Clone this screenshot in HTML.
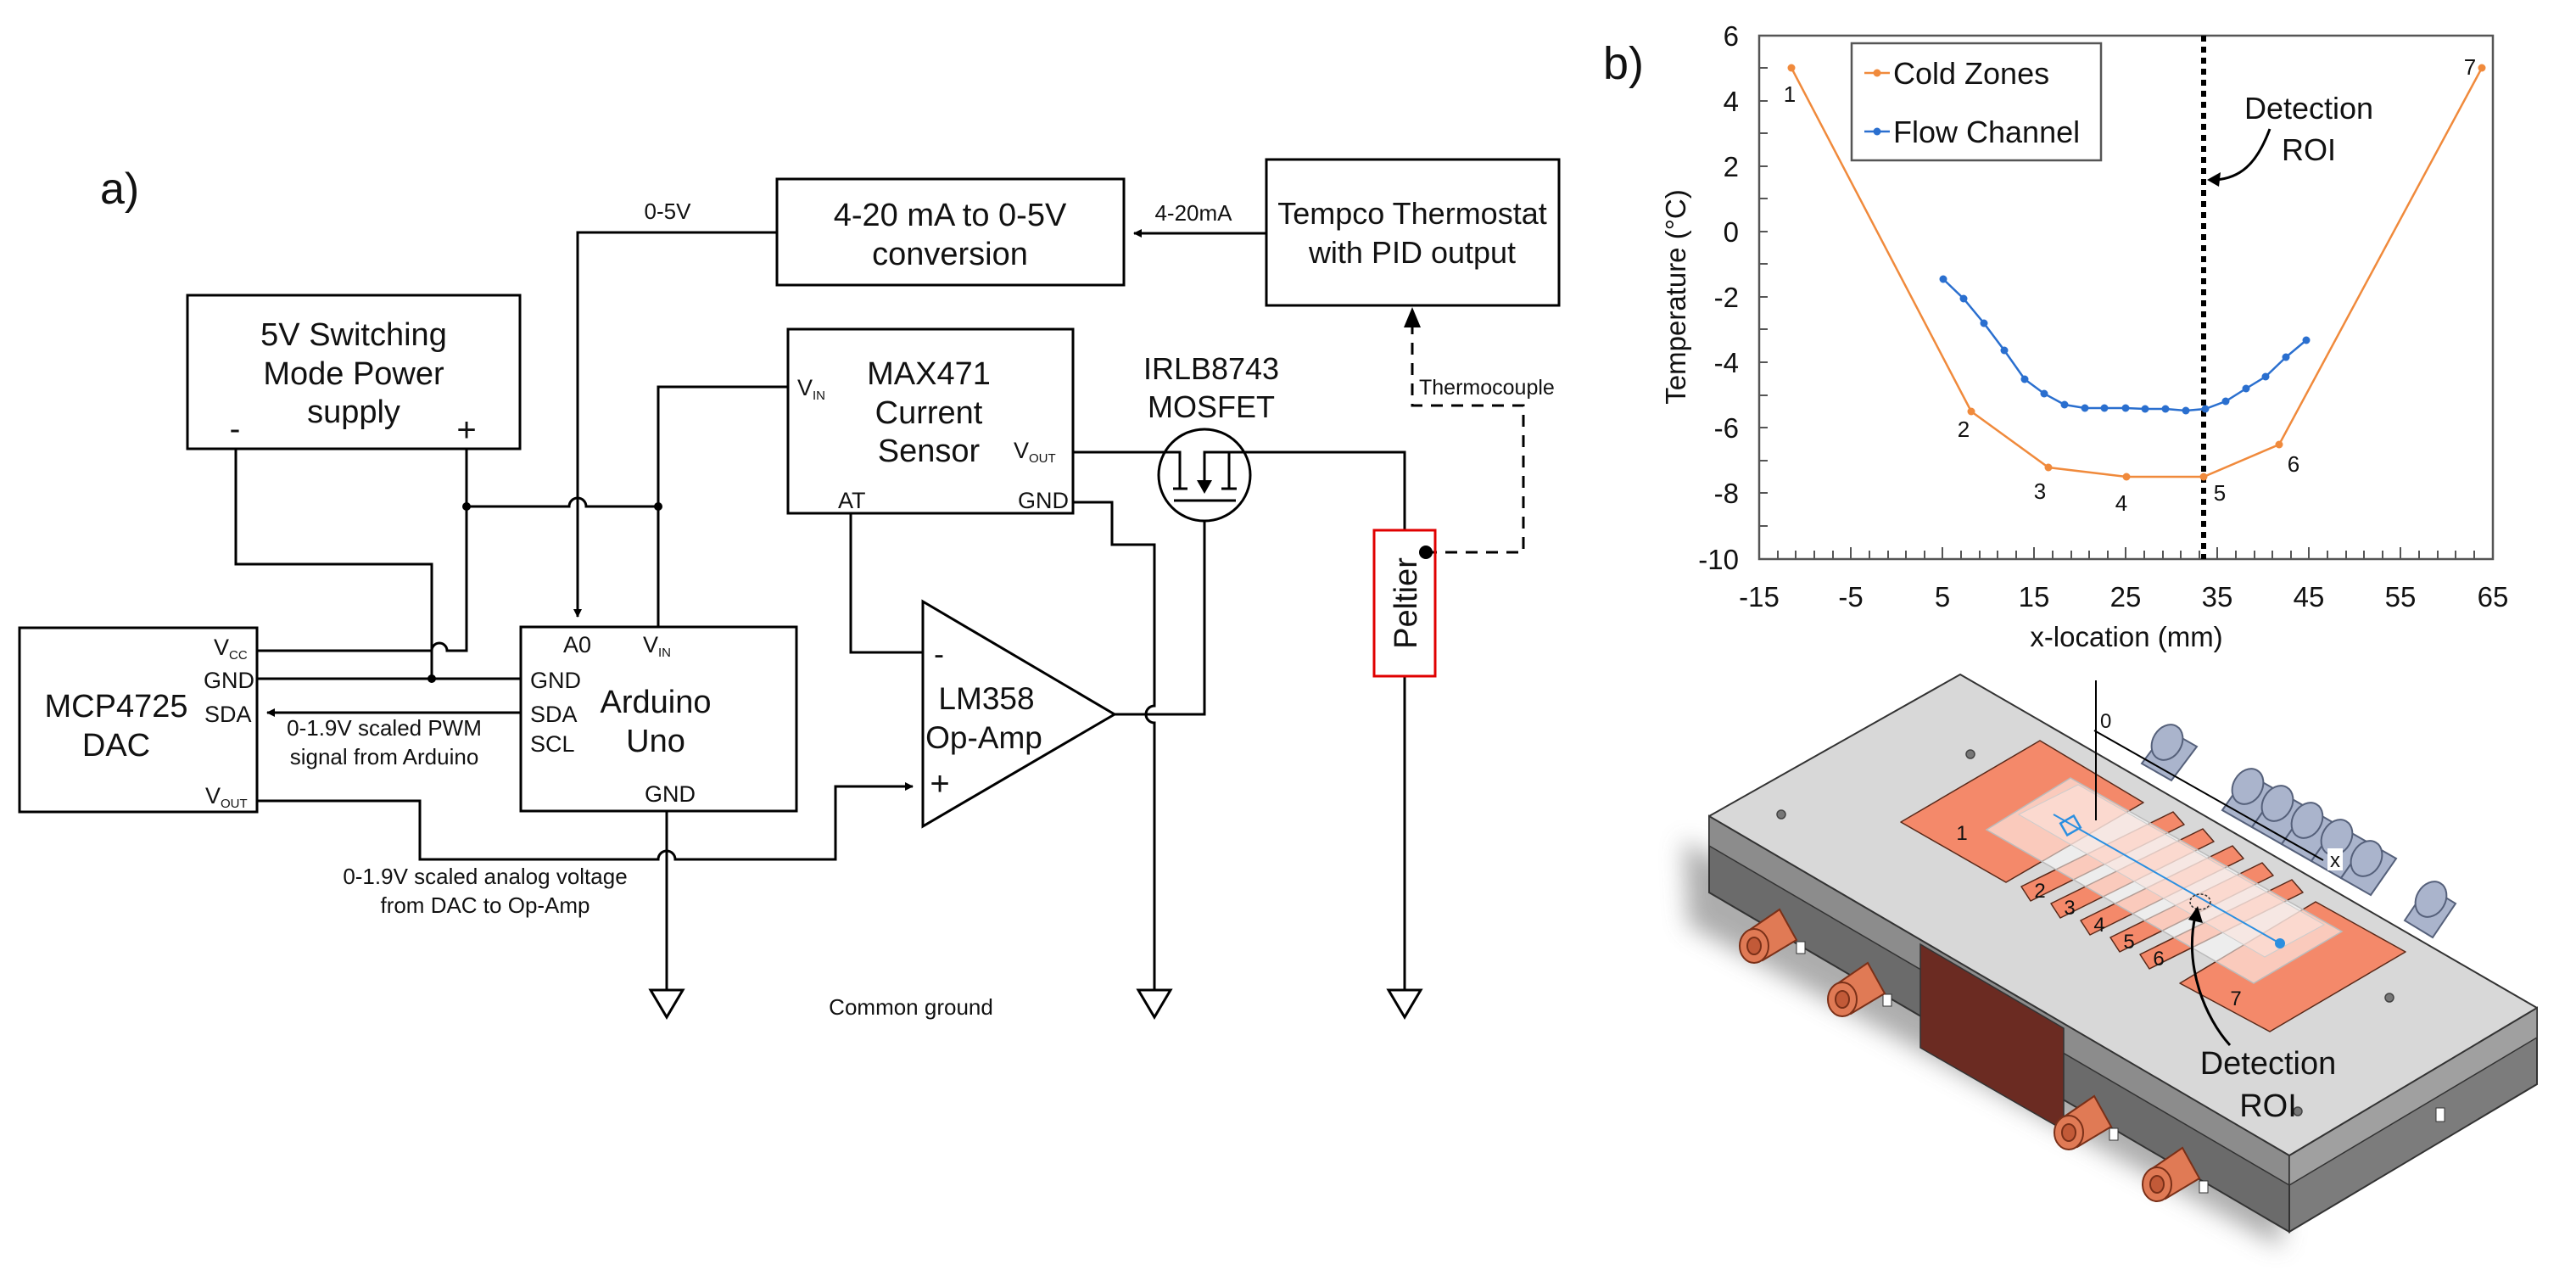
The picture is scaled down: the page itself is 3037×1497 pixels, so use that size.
<!DOCTYPE html>
<html><head><meta charset="utf-8"><style>
html,body{margin:0;padding:0;background:#fff}
svg{display:block}
text{font-family:"Liberation Sans",Arial,sans-serif;fill:#111}
</style></head><body>
<svg width="3037" height="1497" viewBox="0 0 3037 1497" xmlns="http://www.w3.org/2000/svg">
<defs>
<marker id="ar" markerWidth="10" markerHeight="10" refX="9" refY="5" orient="auto" markerUnits="userSpaceOnUse" viewBox="0 0 10 10"><path d="M0,0 L10,5 L0,10 z" fill="#000"/></marker>
<filter id="bl" x="-20%" y="-20%" width="140%" height="140%"><feGaussianBlur stdDeviation="14"/></filter>
</defs>

<!-- ================= PART a) circuit ================= -->
<text x="118" y="240" font-size="52">a)</text>
<g fill="none" stroke="#000" stroke-width="3">
  <rect x="916" y="211" width="409" height="125"/>
  <rect x="1493" y="188" width="345" height="172"/>
  <rect x="221" y="348" width="392" height="181"/>
  <rect x="929" y="388" width="336" height="217"/>
  <rect x="23" y="740" width="280" height="217"/>
  <rect x="614" y="739" width="325" height="217"/>
  <path d="M1088,709 L1314,842 L1088,974 Z"/>
  <circle cx="1420" cy="560" r="54"/>
  <path d="M1493,275 L1337,275" marker-end="url(#ar)"/>
  <path d="M916,274 L681,274 L681,727" marker-end="url(#ar)"/>
  <path d="M550,529 L550,767 L527,767 A9,9 0 0 0 509,767 L303,767"/>
  <path d="M278,529 L278,665 L509,665 L509,800"/>
  <path d="M303,800 L614,800"/>
  <path d="M614,840 L315,840" marker-end="url(#ar)"/>
  <path d="M550,597 L671,597 A10,10 0 0 1 691,597 L776,597"/>
  <path d="M776,739 L776,456 L929,456"/>
  <path d="M303,944 L495,944 L495,1013 L776,1013 A10,10 0 0 1 796,1013 L985,1013 L985,927 L1076,927" marker-end="url(#ar)"/>
  <path d="M786,956 L786,1167"/>
  <path d="M1003,605 L1003,769 L1088,769"/>
  <path d="M1265,592 L1311,592 L1311,642 L1361,642 L1361,832 A10,10 0 0 0 1361,852 L1361,1167"/>
  <path d="M1314,842 L1420,842 L1420,614"/>
  <path d="M1265,533 L1391,533 L1391,576"/>
  <path d="M1383,576 L1400,576"/>
  <path d="M1420,576 L1420,533 L1656,533 L1656,625"/>
  <path d="M1449,533 L1449,576 M1440,576 L1458,576"/>
  <path d="M1384,590 L1457,590"/>
  <path d="M1656,797 L1656,1167"/>
  <path d="M767,1167 L805,1167 L786,1199 Z"/>
  <path d="M1342,1167 L1380,1167 L1361,1199 Z"/>
  <path d="M1637,1167 L1675,1167 L1656,1199 Z"/>
  <path d="M1680,651 L1796,651 L1796,478 L1665,478 L1665,386" stroke-dasharray="14,10"/>
</g>
<path d="M1411,566 L1429,566 L1420,582 Z" fill="#000"/>
<path d="M1665,362 L1655,386 L1675,386 Z" fill="#000"/>
<circle cx="550" cy="597" r="5"/><circle cx="776" cy="597" r="5"/><circle cx="509" cy="800" r="5"/>
<rect x="1620" y="625" width="72" height="172" fill="none" stroke="#e00000" stroke-width="3"/>
<circle cx="1681" cy="651" r="8" fill="#000"/>
<text transform="translate(1670,711) rotate(-90)" font-size="38" text-anchor="middle">Peltier</text>

<g text-anchor="middle">
<text x="1120" y="266" font-size="38">4-20 mA to 0-5V</text>
<text x="1120" y="312" font-size="38">conversion</text>
<text x="1665" y="264" font-size="36">Tempco Thermostat</text>
<text x="1665" y="310" font-size="36">with PID output</text>
<text x="417" y="407" font-size="38">5V Switching</text>
<text x="417" y="453" font-size="38">Mode Power</text>
<text x="417" y="498" font-size="38">supply</text>
<text x="1095" y="453" font-size="38">MAX471</text>
<text x="1095" y="499" font-size="38">Current</text>
<text x="1095" y="544" font-size="38">Sensor</text>
<text x="1428" y="447" font-size="36">IRLB8743</text>
<text x="1428" y="492" font-size="36">MOSFET</text>
<text x="137" y="845" font-size="38">MCP4725</text>
<text x="137" y="891" font-size="38">DAC</text>
<text x="773" y="840" font-size="38">Arduino</text>
<text x="773" y="886" font-size="38">Uno</text>
<text x="1163" y="836" font-size="37">LM358</text>
<text x="1160" y="882" font-size="37">Op-Amp</text>
<text x="787" y="258" font-size="26">0-5V</text>
<text x="1407" y="260" font-size="26">4-20mA</text>
<text x="453" y="867" font-size="26">0-1.9V scaled PWM</text>
<text x="453" y="901" font-size="26">signal from Arduino</text>
<text x="572" y="1042" font-size="26">0-1.9V scaled analog voltage</text>
<text x="572" y="1076" font-size="26">from DAC to Op-Amp</text>
<text x="1074" y="1196" font-size="26">Common ground</text>
<text x="277" y="518" font-size="38">-</text>
<text x="550" y="520" font-size="40">+</text>
<text x="1107" y="783" font-size="36">-</text>
<text x="1108" y="937" font-size="40">+</text>
</g>
<text x="1673" y="465" font-size="25">Thermocouple</text>
<g font-size="27">
<text x="940" y="466">V<tspan font-size="15" dy="5">IN</tspan></text>
<text x="1195" y="540">V<tspan font-size="15" dy="5">OUT</tspan></text>
<text x="988" y="599">AT</text>
<text x="1200" y="599">GND</text>
<text x="664" y="769">A0</text>
<text x="758" y="769">V<tspan font-size="15" dy="5">IN</tspan></text>
<text x="625" y="811">GND</text>
<text x="625" y="851">SDA</text>
<text x="625" y="886">SCL</text>
<text x="760" y="945">GND</text>
<text x="252" y="772">V<tspan font-size="15" dy="5">CC</tspan></text>
<text x="240" y="811">GND</text>
<text x="241" y="851">SDA</text>
<text x="242" y="947">V<tspan font-size="15" dy="5">OUT</tspan></text>
</g>

<!-- ================= PART b) chart ================= -->
<text x="1890" y="93" font-size="54">b)</text>
<rect x="2074" y="42" width="865" height="617" fill="none" stroke="#555" stroke-width="2.5"/>
<g stroke="#555" stroke-width="2">
<path d="M2074,80h10M2074,119h10M2074,157h10M2074,196h10M2074,234h10M2074,273h10M2074,311h10M2074,350h10M2074,388h10M2074,427h10M2074,466h10M2074,504h10M2074,543h10M2074,581h10M2074,620h10"/>
<path d="M2096,659v-10M2117,659v-10M2139,659v-10M2161,659v-10M2182,659v-14M2204,659v-10M2226,659v-10M2247,659v-10M2269,659v-10M2290,659v-14M2312,659v-10M2334,659v-10M2355,659v-10M2377,659v-10M2398,659v-14M2420,659v-10M2442,659v-10M2463,659v-10M2485,659v-10M2506,659v-14M2528,659v-10M2550,659v-10M2571,659v-10M2593,659v-10M2614,659v-14M2636,659v-10M2658,659v-10M2679,659v-10M2701,659v-10M2722,659v-14M2744,659v-10M2766,659v-10M2787,659v-10M2809,659v-10M2830,659v-14M2852,659v-10M2874,659v-10M2895,659v-10M2917,659v-10"/>
</g>
<g font-size="33" text-anchor="end">
<text x="2050" y="54">6</text><text x="2050" y="131">4</text><text x="2050" y="208">2</text><text x="2050" y="285">0</text>
<text x="2050" y="362">-2</text><text x="2050" y="439">-4</text><text x="2050" y="516">-6</text><text x="2050" y="593">-8</text><text x="2050" y="671">-10</text>
</g>
<g font-size="33" text-anchor="middle">
<text x="2074" y="715">-15</text><text x="2182" y="715">-5</text><text x="2290" y="715">5</text><text x="2398" y="715">15</text>
<text x="2506" y="715">25</text><text x="2614" y="715">35</text><text x="2722" y="715">45</text><text x="2830" y="715">55</text><text x="2939" y="715">65</text>
<text x="2507" y="762">x-location (mm)</text>
<text transform="translate(1987,350) rotate(-90)">Temperature (°C)</text>
</g>
<line x1="2598" y1="42" x2="2598" y2="659" stroke="#000" stroke-width="6" stroke-dasharray="7,6"/>
<polyline fill="none" stroke="#f08a3c" stroke-width="2.5" points="2112,80 2324,485 2415,551 2507,562 2598,562 2687,524 2926,80"/>
<g fill="#f08a3c"><circle cx="2112" cy="80" r="4.5"/><circle cx="2324" cy="485" r="4.5"/><circle cx="2415" cy="551" r="4.5"/><circle cx="2507" cy="562" r="4.5"/><circle cx="2598" cy="562" r="4.5"/><circle cx="2687" cy="524" r="4.5"/><circle cx="2926" cy="80" r="4.5"/></g>
<polyline fill="none" stroke="#2a6fcf" stroke-width="2.5" points="2291,329 2315,352 2339,381 2363,413 2387,447 2410,464 2434,477 2458,481 2481,481 2506,481 2529,482 2553,482 2577,484 2600,482 2624,473 2648,458 2671,444 2695,421 2719,401"/>
<g fill="#2a6fcf"><circle cx="2291" cy="329" r="4.5"/><circle cx="2315" cy="352" r="4.5"/><circle cx="2339" cy="381" r="4.5"/><circle cx="2363" cy="413" r="4.5"/><circle cx="2387" cy="447" r="4.5"/><circle cx="2410" cy="464" r="4.5"/><circle cx="2434" cy="477" r="4.5"/><circle cx="2458" cy="481" r="4.5"/><circle cx="2481" cy="481" r="4.5"/><circle cx="2506" cy="481" r="4.5"/><circle cx="2529" cy="482" r="4.5"/><circle cx="2553" cy="482" r="4.5"/><circle cx="2577" cy="484" r="4.5"/><circle cx="2600" cy="482" r="4.5"/><circle cx="2624" cy="473" r="4.5"/><circle cx="2648" cy="458" r="4.5"/><circle cx="2671" cy="444" r="4.5"/><circle cx="2695" cy="421" r="4.5"/><circle cx="2719" cy="401" r="4.5"/></g>
<g font-size="26" fill="#333" text-anchor="middle">
<text x="2110" y="120">1</text><text x="2315" y="515">2</text><text x="2405" y="588">3</text><text x="2501" y="602">4</text>
<text x="2617" y="590">5</text><text x="2704" y="556">6</text><text x="2912" y="88">7</text>
</g>
<rect x="2183" y="51" width="294" height="138" fill="#fff" stroke="#555" stroke-width="2.5"/>
<line x1="2198" y1="86" x2="2228" y2="86" stroke="#f08a3c" stroke-width="2.5"/><circle cx="2213" cy="86" r="4.5" fill="#f08a3c"/>
<line x1="2198" y1="155" x2="2228" y2="155" stroke="#2a6fcf" stroke-width="2.5"/><circle cx="2213" cy="155" r="4.5" fill="#2a6fcf"/>
<text x="2232" y="99" font-size="36">Cold Zones</text>
<text x="2232" y="168" font-size="36">Flow Channel</text>
<text x="2722" y="140" font-size="36" text-anchor="middle">Detection</text>
<text x="2722" y="189" font-size="36" text-anchor="middle">ROI</text>
<path d="M2676,152 C2660,195 2640,210 2612,212" fill="none" stroke="#000" stroke-width="3"/>
<path d="M2602,212 L2618,203 L2616,220 Z" fill="#000"/>

<!-- ================= 3D device ================= -->
<polygon points="1985,990 2690,1400 2690,1470 1990,1090" fill="#999" filter="url(#bl)" opacity="0.8"/>
<g fill="#aab4cc" stroke="#55607a" stroke-width="2">
<path d="M2525,900 L2555,860 L2590,880 L2560,920 Z"/><ellipse cx="2555" cy="875" rx="17" ry="22" transform="rotate(30 2555 875)"/>
<path d="M2620,955 L2650,912 L2685,932 L2655,975 Z"/><ellipse cx="2650" cy="927" rx="17" ry="22" transform="rotate(30 2650 927)"/>
<path d="M2655,975 L2685,932 L2720,952 L2690,995 Z"/><ellipse cx="2685" cy="947" rx="17" ry="22" transform="rotate(30 2685 947)"/>
<path d="M2690,995 L2720,952 L2755,972 L2725,1015 Z"/><ellipse cx="2720" cy="967" rx="17" ry="22" transform="rotate(30 2720 967)"/>
<path d="M2725,1015 L2755,972 L2790,992 L2760,1035 Z"/><ellipse cx="2755" cy="987" rx="17" ry="22" transform="rotate(30 2755 987)"/>
<path d="M2760,1035 L2790,992 L2825,1012 L2795,1055 Z"/><ellipse cx="2790" cy="1012" rx="17" ry="22" transform="rotate(30 2790 1012)"/>
<path d="M2835,1085 L2862,1045 L2895,1065 L2868,1105 Z"/><ellipse cx="2866" cy="1060" rx="17" ry="22" transform="rotate(30 2866 1060)"/>
</g>
<polygon points="2015,962 2699,1362 2699,1452 2015,1052" fill="#6b6b6b" stroke="#333" stroke-width="2"/>
<polygon points="2015,962 2699,1362 2699,1397 2015,997" fill="#8c8c8c" stroke="#333" stroke-width="1.5"/>
<polygon points="2699,1362 2991,1188 2991,1278 2699,1452" fill="#7c7c7c" stroke="#333" stroke-width="2"/>
<polygon points="2699,1362 2991,1188 2991,1223 2699,1397" fill="#a0a0a0" stroke="#333" stroke-width="1.5"/>
<polygon points="2311,795 2991,1188 2699,1362 2015,962" fill="#d8d8d8" stroke="#333" stroke-width="2" stroke-linejoin="round"/>
<polygon points="2264,1113 2433,1212 2433,1332 2264,1235" fill="#6b2b22" stroke="#333" stroke-width="1.5"/>
<g fill="#fff" stroke="#333" stroke-width="1"><rect x="2118" y="1110" width="10" height="14"/><rect x="2220" y="1172" width="10" height="14"/><rect x="2487" y="1330" width="10" height="14"/><rect x="2593" y="1392" width="10" height="14"/><rect x="2872" y="1306" width="10" height="16"/></g>
<g fill="#e07a55" stroke="#7a3018" stroke-width="2">
<path d="M2060,1098 L2098,1072 L2118,1108 L2078,1132 Z"/><ellipse cx="2068" cy="1115" rx="17" ry="20"/><ellipse cx="2068" cy="1115" rx="8" ry="10" fill="#c25a38"/>
<path d="M2164,1161 L2202,1135 L2222,1171 L2182,1195 Z"/><ellipse cx="2172" cy="1178" rx="17" ry="20"/><ellipse cx="2172" cy="1178" rx="8" ry="10" fill="#c25a38"/>
<path d="M2431,1318 L2469,1292 L2489,1328 L2449,1352 Z"/><ellipse cx="2439" cy="1335" rx="17" ry="20"/><ellipse cx="2439" cy="1335" rx="8" ry="10" fill="#c25a38"/>
<path d="M2535,1379 L2573,1353 L2593,1389 L2553,1413 Z"/><ellipse cx="2543" cy="1396" rx="17" ry="20"/><ellipse cx="2543" cy="1396" rx="8" ry="10" fill="#c25a38"/>
</g>
<g fill="#777" stroke="#444" stroke-width="1.5"><circle cx="2323" cy="889" r="5"/><circle cx="2100" cy="960" r="5"/><circle cx="2817" cy="1176" r="5"/><circle cx="2709" cy="1310" r="5"/></g>
<g fill="#f4896a" stroke="#5a2a1a" stroke-width="1.5" stroke-linejoin="round">
<polygon points="2241,969 2405,873 2527,946 2365,1040"/>
<polygon points="2570,1159 2730,1063 2836,1122 2676,1216"/>
<polygon points="2383,1045 2562,957 2575,972 2394,1062"/>
<polygon points="2418,1065 2597,977 2610,992 2429,1082"/>
<polygon points="2453,1085 2632,997 2645,1012 2464,1102"/>
<polygon points="2488,1105 2667,1017 2680,1032 2499,1122"/>
<polygon points="2523,1125 2702,1037 2715,1052 2534,1142"/>
</g>
<polygon points="2342,978 2441,917 2761,1098 2657,1159" fill="#fff" fill-opacity="0.55" stroke="#bbb" stroke-width="1.5"/>
<polygon points="2380,960 2450,925 2740,1090 2670,1128" fill="#fbe3dc" fill-opacity="0.6" stroke="#ccc" stroke-width="1"/>
<line x1="2421" y1="960" x2="2688" y2="1112" stroke="#2b8fe0" stroke-width="2"/>
<rect x="2432" y="965" width="18" height="16" fill="none" stroke="#2b8fe0" stroke-width="2.5" transform="rotate(-30 2441 973)"/>
<circle cx="2688" cy="1112" r="6" fill="#2b8fe0"/>
<ellipse cx="2594" cy="1063" rx="12" ry="9" fill="none" stroke="#333" stroke-width="1.5" stroke-dasharray="3,2"/>
<g font-size="24" text-anchor="middle" fill="#111">
<text x="2313" y="990">1</text><text x="2636" y="1185">7</text>
<text x="2405" y="1058">2</text><text x="2440" y="1078">3</text><text x="2475" y="1098">4</text><text x="2510" y="1118">5</text><text x="2545" y="1138">6</text>
</g>
<line x1="2471" y1="802" x2="2471" y2="967" stroke="#000" stroke-width="2"/>
<line x1="2469" y1="861" x2="2739" y2="1014" stroke="#000" stroke-width="2"/>
<text x="2476" y="858" font-size="24" font-family="Liberation Serif">0</text>
<rect x="2744" y="1000" width="18" height="26" fill="#fff"/>
<text x="2747" y="1022" font-size="24">x</text>
<path d="M2629,1232 C2600,1200 2575,1140 2588,1080" fill="none" stroke="#000" stroke-width="3"/>
<path d="M2591,1068 L2597,1088 L2580,1084 Z" fill="#000"/>
<text x="2674" y="1266" font-size="38" text-anchor="middle">Detection</text>
<text x="2674" y="1316" font-size="38" text-anchor="middle">ROI</text>
</svg>
</body></html>
